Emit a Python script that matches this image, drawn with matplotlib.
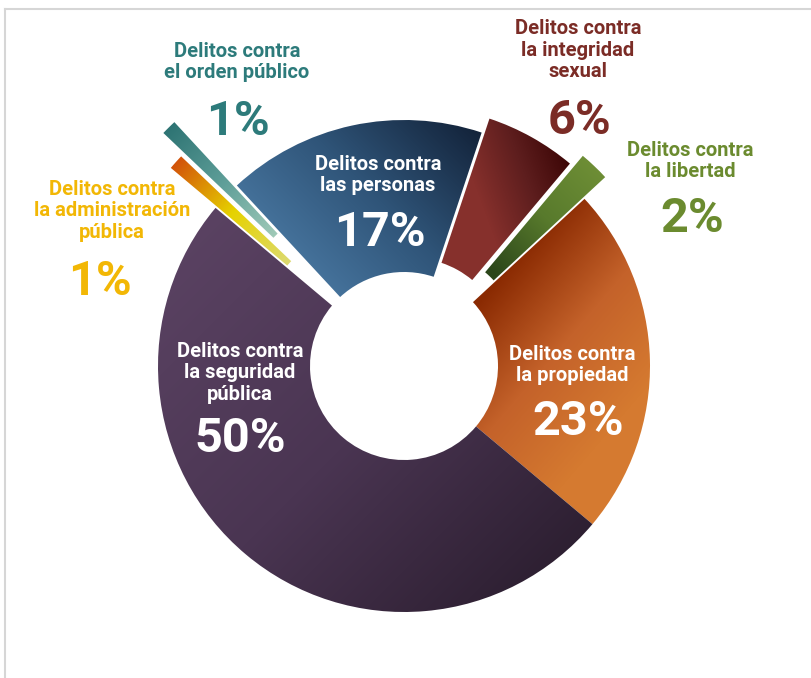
import matplotlib.pyplot as plt
import matplotlib.colors as mcolors
import numpy as np

W, H = 812, 678

# data (percent of crimes), counter-clockwise starting at the lower right
categorias = ["Delitos contra\nla propiedad", "Delitos contra\nla libertad",
              "Delitos contra\nla integridad\nsexual", "Delitos contra\nlas personas",
              "Delitos contra\nel orden público", "Delitos contra\nla administración\npública",
              "Delitos contra\nla seguridad\npública"]
porcentajes = [23, 2, 6, 17, 1, 1, 50]
etiquetas = ["23%", "2%", "6%", "17%", "1%", "1%", "50%"]

# styling
explode_px = [0, 30, 16, 0, 89, 60, 0]
# gradient stops (screen coords p0 -> p1) for each wedge
gradientes = [
    ((480, 300), (620, 420), ["#8a2a02", "#c4622a", "#d57a30"]),
    ((600, 165), (495, 275), ["#6f8f36", "#587a2c", "#2b461a"]),
    ((480, 200), (575, 165), ["#86302c", "#5e1e1e", "#3a0404"]),
    ((300, 290), (470, 120), ["#4a79a3", "#2f5478", "#13233a"]),
    ((170, 125), (280, 235), ["#2d7373", "#5e9e98", "#a2cbb9"]),
    ((178, 158), (292, 262), ["#d2500a", "#e6d200", "#dcda72"]),
    ((190, 230), (560, 600), ["#5a4262", "#4a3552", "#2a1d2e"]),
]
txt_colores = ["white", "#6b8b2f", "#7b2c26", "white", "#2d7b7b", "#f2b705", "white"]
# label centre (screen px) and percent baseline (screen px)
lab_pos = [(572, 365), (690, 161), (578, 50), (378, 175), (237, 62), (112, 211), (240, 373)]
pct_pos = [(578, 435), (692, 232), (580, 134), (380, 246), (238, 135), (100, 295), (240, 452)]

cx, cy = 404, H - 366
R, r_in = 246, 94

plt.rcParams['font.family'] = ['Roboto', 'DejaVu Sans']
fig = plt.figure(figsize=(W / 100, H / 100), dpi=100)
ax = fig.add_axes([0, 0, 1, 1])

# pie explode is added in data units here (radius is in px)
wedges, _ = ax.pie(porcentajes, explode=explode_px, startangle=-40, counterclock=True,
                   radius=R, center=(cx, cy), wedgeprops=dict(width=R - r_in, linewidth=0),
                   frame=True)

yy, xx = np.mgrid[0:H, 0:W] + 0.5
for w, (p0, p1, cols) in zip(wedges, gradientes):
    w.set_facecolor('none')
    d = np.array(p1, float) - np.array(p0, float)
    t = ((xx - p0[0]) * d[0] + (yy - p0[1]) * d[1]) / (d @ d)
    t = np.clip(t, 0, 1)
    cmap = mcolors.LinearSegmentedColormap.from_list("g", cols)
    img = ax.imshow(cmap(t), extent=(0, W, 0, H), origin='upper', interpolation='bilinear',
                    zorder=2)
    img.set_clip_path(w)

for cat, et, col, lp, pp in zip(categorias, etiquetas, txt_colores, lab_pos, pct_pos):
    ax.text(lp[0], H - lp[1], cat, color=col, fontsize=14.5, fontweight='bold',
            ha='center', va='center', linespacing=1.15, zorder=5)
    ax.text(pp[0], H - pp[1], et, color=col, fontsize=35, fontweight='bold',
            ha='center', va='baseline', zorder=5)

# thin frame lines at top and left
ax.plot([5, W], [H - 9, H - 9], color="#d6d6d6", lw=1.5, zorder=1)
ax.plot([5, 5], [H - 9, 0], color="#d6d6d6", lw=1.5, zorder=1)

ax.set_xlim(0, W)
ax.set_ylim(0, H)
ax.set_aspect('auto')
ax.axis('off')
fig.savefig("out.png", dpi=100)
